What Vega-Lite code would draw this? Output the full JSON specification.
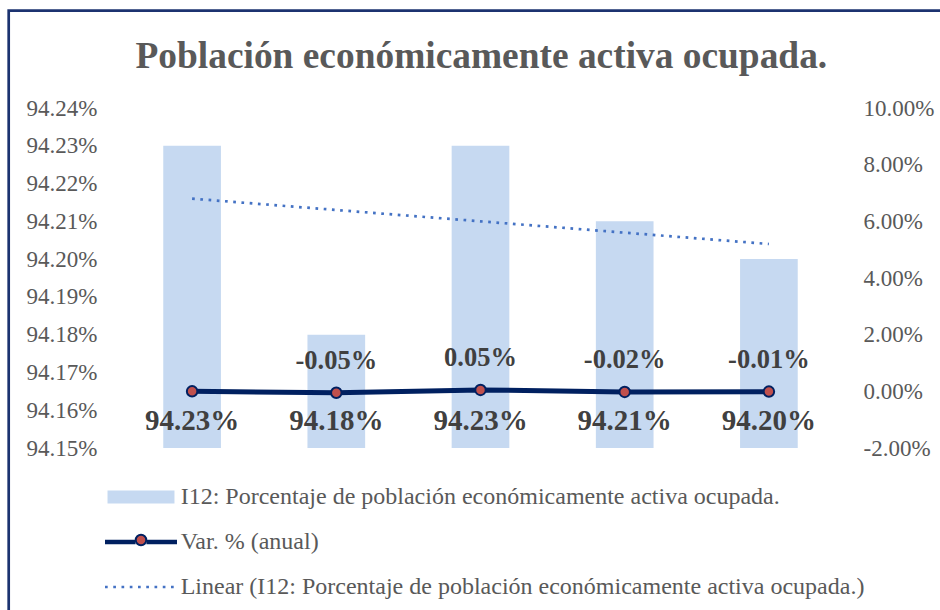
{
  "$schema": "https://vega.github.io/schema/vega-lite/v6.json",
  "autosize": {"type": "none"},
  "padding": {"left": 8.7, "top": 10.7, "right": -10, "bottom": -10},
  "width": 941.3,
  "height": 609.3,
  "background": "white",
  "config": {
    "view": {"stroke": "#1C3370", "strokeWidth": 2.7},
    "locale": {"number": {"decimal": ".", "thousands": ",", "grouping": [3], "currency": ["$", ""], "minus": "-"}},
    "font": "Liberation Serif"
  },
  "title": {
    "text": "Población económicamente activa ocupada.",
    "font": "Liberation Serif",
    "fontSize": 37.4,
    "fontWeight": "bold",
    "color": "#595959",
    "frame": "group",
    "anchor": "middle",
    "baseline": "alphabetic",
    "offset": -94.3,
    "dx": 2
  },
  "data": {
    "values": [
      {"anio": "2015", "pct": 0.9423, "trend": 0.94216, "var": 0},
      {"anio": "2016", "pct": 0.9418, "trend": 0.94213, "var": -0.0005},
      {"anio": "2017", "pct": 0.9423, "trend": 0.9421, "var": 0.0005},
      {"anio": "2018", "pct": 0.9421, "trend": 0.94207, "var": -0.0002},
      {"anio": "2019", "pct": 0.942, "trend": 0.94204, "var": -0.0001}
    ]
  },
  "layer": [
    {
      "layer": [
        {
          "mark": {"type": "bar"},
          "encoding": {
            "x": {"field": "anio", "type": "ordinal", "axis": null,
              "scale": {"range": [111.3, 832.3], "paddingInner": 0.6, "paddingOuter": 0.3}},
            "y": {"field": "pct", "type": "quantitative", "title": null,
              "scale": {"domain": [0.9415, 0.9424], "range": [437.3, 97.3], "zero": false, "nice": false},
              "axis": {"orient": "left", "offset": -88.3, "domain": false, "ticks": false, "grid": false,
                "labelPadding": 0, "labelOverlap": false, "labelFlush": false,
                "values": [0.9415, 0.9416, 0.9417, 0.9418, 0.9419, 0.942, 0.9421, 0.9422, 0.9423, 0.9424],
                "format": ".2%", "labelFont": "Liberation Serif", "labelFontSize": 23, "labelColor": "#595959", "title": null}},
            "y2": {"datum": 0.9415},
            "color": {
              "datum": "I12: Porcentaje de población económicamente activa ocupada.",
              "scale": {
                "domain": [
                  "I12: Porcentaje de población económicamente activa ocupada.",
                  "Var. % (anual)",
                  "Linear (I12: Porcentaje de población económicamente activa ocupada.)"
                ],
                "range": ["#C6D9F1", "#002060", "#4472C4"]
              },
              "legend": {
                "title": null,
                "orient": "none",
                "legendX": 96.3,
                "legendY": 475.3,
                "direction": "vertical",
                "padding": 0,
                "symbolSize": 5184,
                "clipHeight": 22,
                "rowPadding": 21,
                "symbolOffset": 24,
                "labelOffset": 27.7,
                "labelFont": "Liberation Serif",
                "labelFontSize": 24,
                "labelColor": "#595959",
                "labelLimit": 900,
                "labelBaseline": "middle",
                "encode": {
                  "symbols": {
                    "update": {
                      "shape": {"signal": "datum.index === 0 ? 'M-0.93,-0.18H0.93V0.18H-0.93Z' : datum.index === 1 ? 'M-1,0H-0.15M0.15,0H1' : 'M-1,0H0.97'"},
                      "size": {"value": 5184},
                      "fill": {"signal": "datum.index === 0 ? '#C6D9F1' : 'transparent'"},
                      "stroke": {"signal": "datum.index === 0 ? 'transparent' : datum.index === 1 ? '#002060' : '#4472C4'"},
                      "strokeWidth": {"signal": "datum.index === 0 ? 0 : datum.index === 1 ? 4.7 : 2.7"},
                      "strokeDash": {"signal": "datum.index === 2 ? [2.7, 5.55] : [1, 0]"},
                      "opacity": {"value": 1},
                      "fillOpacity": {"value": 1},
                      "strokeOpacity": {"value": 1}
                    }
                  }
                }
              }
            }
          }
        },
        {
          "mark": {"type": "text", "font": "Liberation Serif", "fontSize": 29, "fontWeight": "bold", "color": "#404040", "baseline": "alphabetic", "align": "center", "dy": -18.5},
          "encoding": {
            "x": {"field": "anio", "type": "ordinal", "axis": null},
            "y": {"datum": 0.9415},
            "text": {"field": "pct", "type": "quantitative", "format": ".2%"}
          }
        },
        {
          "mark": {"type": "line", "strokeWidth": 2.7, "strokeDash": [2.7, 5.55]},
          "encoding": {
            "x": {"field": "anio", "type": "ordinal", "axis": null},
            "y": {"field": "trend", "type": "quantitative", "title": null},
            "color": {"datum": "Linear (I12: Porcentaje de población económicamente activa ocupada.)"}
          }
        }
      ]
    },
    {
      "layer": [
        {
          "mark": {"type": "line", "strokeWidth": 5},
          "encoding": {
            "x": {"field": "anio", "type": "ordinal", "axis": null},
            "y": {"field": "var", "type": "quantitative", "title": null,
              "scale": {"domain": [-0.02, 0.1], "range": [437.3, 97.3], "zero": false, "nice": false},
              "axis": {"orient": "right", "offset": -87, "domain": false, "ticks": false, "grid": false,
                "labelPadding": 0, "labelOverlap": false, "labelFlush": false,
                "values": [-0.02, 0, 0.02, 0.04, 0.06, 0.08, 0.1],
                "format": ".2%", "labelFont": "Liberation Serif", "labelFontSize": 23, "labelColor": "#595959", "title": null}},
            "color": {"datum": "Var. % (anual)"}
          }
        },
        {
          "mark": {"type": "point", "shape": "circle", "filled": true, "stroke": "#002060", "strokeWidth": 2, "size": 110, "opacity": 1},
          "encoding": {
            "x": {"field": "anio", "type": "ordinal", "axis": null},
            "y": {"field": "var", "type": "quantitative", "title": null},
            "fill": {
              "datum": " ",
              "scale": {"domain": [" "], "range": ["#C0504D"]},
              "legend": {
                "title": null,
                "orient": "none",
                "legendX": 96.3,
                "legendY": 518.3,
                "direction": "vertical",
                "padding": 0,
                "symbolType": "circle",
                "symbolSize": 110,
                "clipHeight": 22,
                "symbolOffset": 24,
                "labelOffset": 27.7,
                "labelFontSize": 24,
                "labelColor": "#595959",
                "labelBaseline": "middle",
                "symbolStrokeColor": "#002060",
                "symbolStrokeWidth": 2,
                "symbolOpacity": 1
              }
            }
          }
        },
        {
          "transform": [{"filter": "datum.anio !== '2015'"}],
          "mark": {"type": "text", "font": "Liberation Serif", "fontSize": 26.5, "fontWeight": "bold", "color": "#404040", "baseline": "alphabetic", "align": "center", "dy": -23.5},
          "encoding": {
            "x": {"field": "anio", "type": "ordinal", "axis": null},
            "y": {"field": "var", "type": "quantitative", "title": null},
            "text": {"field": "var", "type": "quantitative", "format": ".2%"}
          }
        }
      ]
    }
  ],
  "resolve": {"scale": {"y": "independent"}}
}
